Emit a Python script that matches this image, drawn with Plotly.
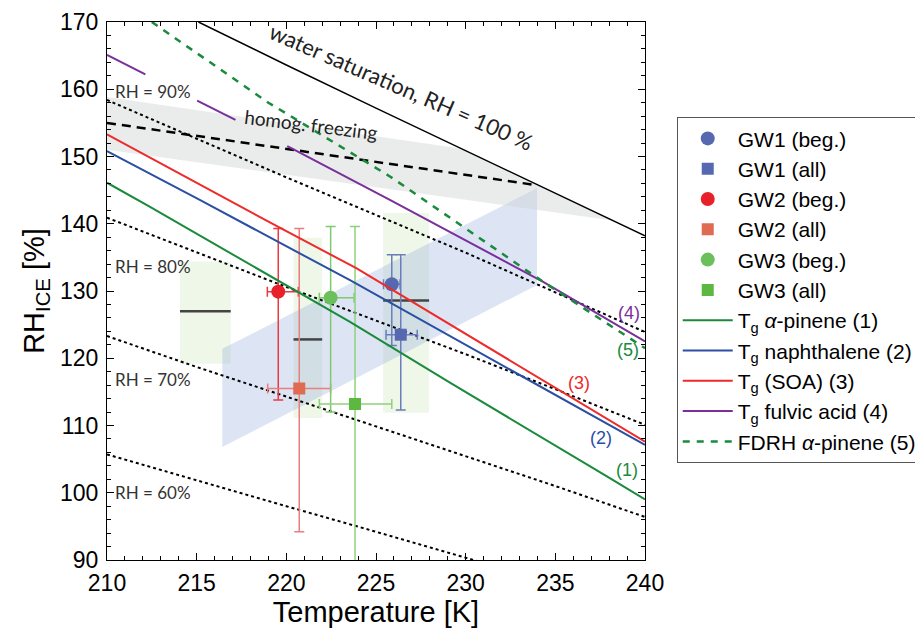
import plotly.graph_objects as go

# ---------------- data ----------------
T_grid = [210, 215, 220, 225, 230, 235, 240]
RH90 = [158.4, 152.6, 146.9, 141.3, 135.7, 129.8, 123.9]
RH80 = [140.9, 135.7, 130.6, 125.6, 120.6, 115.4, 110.1]
RH70 = [123.3, 118.7, 114.3, 109.9, 105.5, 101.0, 96.4]
RH60 = [105.7, 101.8, 98.0, 94.2, 90.4, 86.6, 82.6]

T_ws = [215.1, 220, 225, 230, 235, 240]
RH_ws = [170.0, 163.6, 157.2, 150.9, 144.6, 138.2]

T_hom = [210, 233.8]
RH_hom = [155.0, 145.8]

T_apin = [210, 212.4, 223.55, 229.1, 237.9, 240]
RH_apin = [146.1, 142.5, 125.4, 116.4, 102.4, 99.0]
T_naph = [210, 215.2, 223.55, 240]
RH_naph = [150.8, 143.5, 131.6, 107.1]
T_soa = [210, 219.5, 223.9, 240]
RH_soa = [153.3, 139.6, 133.4, 107.6]
T_fulv_ext = [210, 220.3]
RH_fulv_ext = [165.1, 151.2]
T_fulv = [220.3, 225.8, 234.3, 240]
RH_fulv = [151.2, 143.5, 131.4, 122.5]
T_fdrh = [212.5, 219.0, 225.8, 234.3, 240]
RH_fdrh = [170.0, 158.0, 147.0, 131.4, 121.5]

# gray band (homogeneous freezing uncertainty)
T_gray = [210, 229.9, 238.2, 210]
RH_gray = [158.85, 151.1, 140.5, 151.0]
# blue band
T_blue = [216.43, 233.98, 233.98, 216.43]
RH_blue = [121.4, 145.3, 130.9, 106.8]
# green rectangles
rect_Tmin = [214.07, 220.4, 225.4]
rect_Tmax = [216.9, 222.0, 227.96]
rect_RHmin = [119.2, 111.1, 111.9]
rect_RHmax = [134.4, 137.9, 141.6]
rect_RHmid = [127.0, 122.8, 128.6]

# measurement points
names = ["GW1 (beg.)", "GW1 (all)", "GW2 (beg.)", "GW2 (all)", "GW3 (beg.)", "GW3 (all)"]
pt_T = [225.88, 226.38, 219.55, 220.72, 222.47, 223.83]
pt_RH = [131.0, 123.5, 129.9, 115.5, 129.0, 113.2]
pt_Tlo = [225.42, 225.56, 218.94, 218.96, 221.84, 221.84]
pt_Thi = [226.34, 227.30, 220.67, 222.47, 223.78, 225.88]
pt_RHlo = [121.9, 112.3, 113.8, 94.2, 112.0, 80.0]
pt_RHhi = [135.4, 135.4, 139.3, 139.3, 139.6, 139.6]
pt_symbol = ["circle", "square", "circle", "square", "circle", "square"]
pt_color = ["#5568b0", "#5568b0", "#e8202a", "#df6b52", "#6cc05c", "#5cb840"]
pt_errcolor = ["#6a7dbd", "#6a7dbd", "#e83a40", "#ea7d7d", "#7fca6c", "#8fd27c"]

fig = go.Figure()

# green rectangles
for i in range(len(rect_Tmin)):
    fig.add_trace(go.Scatter(
        x=[rect_Tmin[i], rect_Tmax[i], rect_Tmax[i], rect_Tmin[i], rect_Tmin[i]],
        y=[rect_RHmin[i], rect_RHmin[i], rect_RHmax[i], rect_RHmax[i], rect_RHmin[i]],
        fill="toself", fillcolor="rgba(200,228,180,0.3)", line=dict(width=0),
        mode="lines", showlegend=False, hoverinfo="skip"))
# blue band
fig.add_trace(go.Scatter(x=T_blue + [T_blue[0]], y=RH_blue + [RH_blue[0]], fill="toself",
                         fillcolor="rgba(150,175,220,0.32)", line=dict(width=0),
                         mode="lines", showlegend=False, hoverinfo="skip"))
# gray band
fig.add_trace(go.Scatter(x=T_gray + [T_gray[0]], y=RH_gray + [RH_gray[0]], fill="toself",
                         fillcolor="rgba(205,210,210,0.42)", line=dict(width=0),
                         mode="lines", showlegend=False, hoverinfo="skip"))
# black mid lines in rectangles
for i in range(len(rect_Tmin)):
    fig.add_trace(go.Scatter(x=[rect_Tmin[i], rect_Tmax[i]], y=[rect_RHmid[i], rect_RHmid[i]],
                             mode="lines", line=dict(color="#444444", width=2.5),
                             showlegend=False, hoverinfo="skip"))

# RH dotted lines
for arr in (RH90, RH80, RH70, RH60):
    fig.add_trace(go.Scatter(x=T_grid, y=arr, mode="lines",
                             line=dict(color="black", width=2, dash="dot"),
                             showlegend=False, hoverinfo="skip"))
# water saturation
fig.add_trace(go.Scatter(x=T_ws, y=RH_ws, mode="lines", line=dict(color="black", width=1.5),
                         showlegend=False, hoverinfo="skip"))
# homogeneous freezing
fig.add_trace(go.Scatter(x=T_hom, y=RH_hom, mode="lines",
                         line=dict(color="black", width=2.5, dash="9px,6px"),
                         showlegend=False, hoverinfo="skip"))

# measurement points
for i in range(len(names)):
    fig.add_trace(go.Scatter(
        x=[pt_T[i]], y=[pt_RH[i]], mode="markers", name=names[i],
        marker=dict(symbol=pt_symbol[i], size=14 if pt_symbol[i] == "circle" else 12,
                    color=pt_color[i]),
        error_x=dict(type="data", symmetric=False, array=[pt_Thi[i] - pt_T[i]],
                     arrayminus=[pt_T[i] - pt_Tlo[i]], color=pt_errcolor[i],
                     thickness=1.5, width=5),
        error_y=dict(type="data", symmetric=False, array=[pt_RHhi[i] - pt_RH[i]],
                     arrayminus=[pt_RH[i] - pt_RHlo[i]], color=pt_errcolor[i],
                     thickness=1.5, width=5)))

# Tg lines
fig.add_trace(go.Scatter(x=T_apin, y=RH_apin, mode="lines", name="T<sub>g</sub> <i>α</i>-pinene (1)",
                         line=dict(color="#1a8a3c", width=2)))
fig.add_trace(go.Scatter(x=T_naph, y=RH_naph, mode="lines", name="T<sub>g</sub> naphthalene (2)",
                         line=dict(color="#2a4fa3", width=2)))
fig.add_trace(go.Scatter(x=T_soa, y=RH_soa, mode="lines", name="T<sub>g</sub> (SOA) (3)",
                         line=dict(color="#ee2a2a", width=2)))
fig.add_trace(go.Scatter(x=T_fulv, y=RH_fulv, mode="lines", name="T<sub>g</sub> fulvic acid (4)",
                         line=dict(color="#7a2f9a", width=2)))
fig.add_trace(go.Scatter(x=T_fulv_ext, y=RH_fulv_ext, mode="lines", showlegend=False,
                         line=dict(color="#7a2f9a", width=2, dash="43px,58px"), hoverinfo="skip"))
fig.add_trace(go.Scatter(x=T_fdrh, y=RH_fdrh, mode="lines", name="FDRH <i>α</i>-pinene (5)",
                         line=dict(color="#1a8a3c", width=2.5, dash="7px,7px")))

# annotations
ann_font = dict(family="Lato, Liberation Sans, sans-serif", size=17, color="#333333")
for txt, yv in [("RH = 90%", 159.6), ("RH = 80%", 133.7), ("RH = 70%", 116.8), ("RH = 60%", 100.0)]:
    fig.add_annotation(x=210.35, y=yv, text=txt, showarrow=False, xanchor="left",
                       font=ann_font)
fig.add_annotation(x=226.4, y=160.4, text="water saturation, RH = 100 %", showarrow=False,
                   textangle=23.5, font=dict(family="Lato, Liberation Sans, sans-serif", size=22,
                                             color="#222222"))
fig.add_annotation(x=221.4, y=154.7, text="homog. freezing", showarrow=False, textangle=7,
                   font=dict(family="Lato, Liberation Sans, sans-serif", size=19, color="#222222"))
for txt, xv, yv, col in [("(1)", 239.0, 103.4, "#1a8a3c"), ("(2)", 237.55, 108.1, "#2a4fa3"),
                          ("(3)", 236.3, 116.3, "#ee2a2a"), ("(4)", 239.1, 126.7, "#7a2f9a"),
                          ("(5)", 239.05, 121.3, "#1a8a3c")]:
    fig.add_annotation(x=xv, y=yv, text=txt, showarrow=False,
                       font=dict(family="Arial, Liberation Sans, sans-serif", size=18, color=col))

axis_common = dict(showgrid=False, zeroline=False, showline=True, linecolor="black", linewidth=1,
                   mirror="allticks", ticks="inside", ticklen=7, tickcolor="black",
                   tickfont=dict(family="Arial, Liberation Sans, sans-serif", size=23, color="black"))
fig.update_xaxes(range=[210, 240], dtick=5, tick0=210, ticklabelstandoff=2,
                 minor=dict(dtick=1, ticks="inside", ticklen=4, tickcolor="black"),
                 title=dict(text="Temperature [K]", font=dict(family="Arial, Liberation Sans, sans-serif",
                                                                size=29, color="black"), standoff=4),
                 **axis_common)
fig.update_yaxes(range=[90, 170], dtick=10, tick0=90, ticklabelstandoff=3,
                 minor=dict(dtick=2, ticks="inside", ticklen=4, tickcolor="black"),
                 title=dict(text="RH<sub>ICE</sub> [%]", font=dict(family="Arial, Liberation Sans, sans-serif",
                                                                    size=29, color="black"), standoff=6),
                 **axis_common)

fig.update_layout(
    width=923, height=634,
    margin=dict(l=99, r=286, t=14, b=82, autoexpand=False),
    plot_bgcolor="white", paper_bgcolor="white",
    legend=dict(x=1.059, y=0.823, xanchor="left", yanchor="top",
                bgcolor="white", bordercolor="#555555", borderwidth=1,
                font=dict(family="Arial, Liberation Sans, sans-serif", size=21, color="black"),
                itemwidth=50, tracegroupgap=0),
)

fig.write_html("out.html")
